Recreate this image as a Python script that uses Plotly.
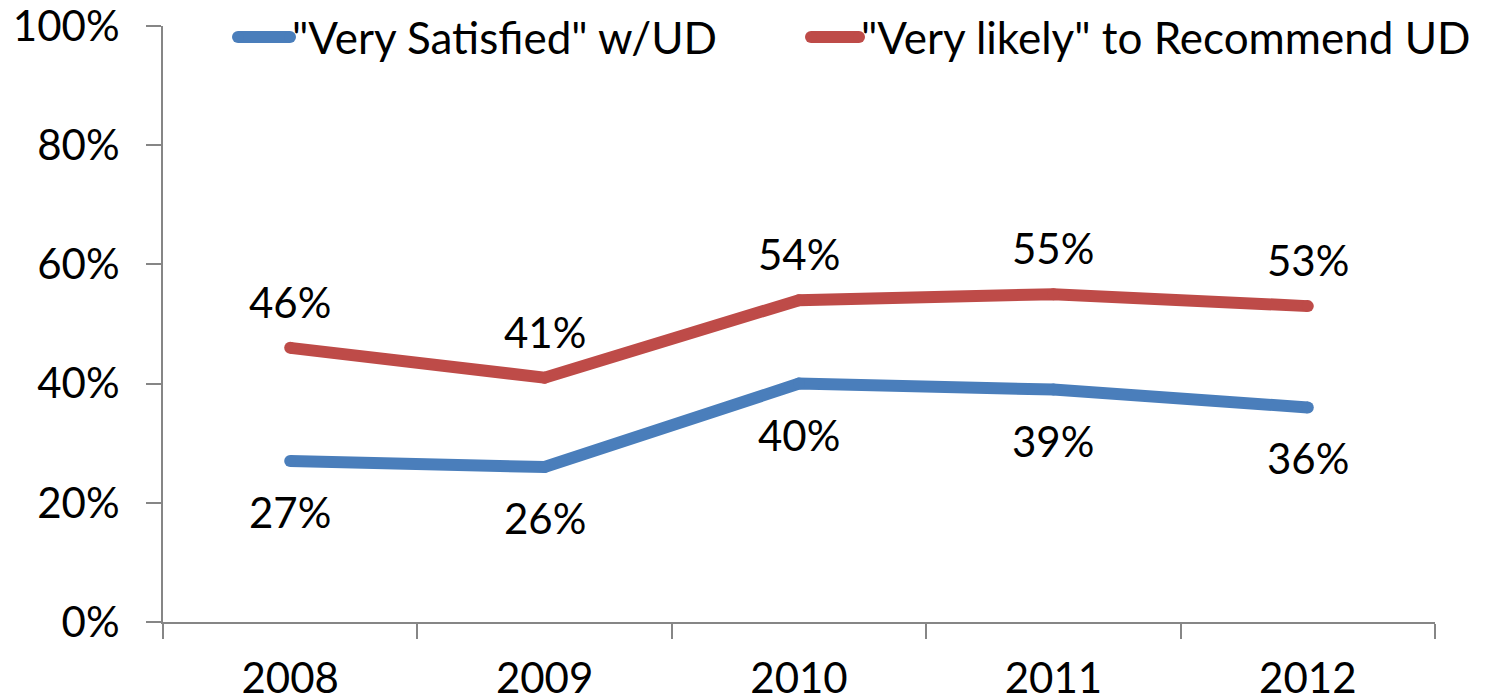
import plotly.graph_objects as go

years = ["2008", "2009", "2010", "2011", "2012"]
very_satisfied = [27, 26, 40, 39, 36]
very_likely = [46, 41, 54, 55, 53]
series_names = ['"Very Satisfied" w/UD', '"Very likely" to Recommend UD']
colors = ["#4A7EBB", "#BE4B48"]
y_tickvals = [0, 20, 40, 60, 80, 100]
y_ticktext = ["0%", "20%", "40%", "60%", "80%", "100%"]

FONT = "Lato"
FS = 42
FS_LEG = 44
OFF = 8  # page body margin
W, H = 1492 - OFF, 700 - OFF
ML, MT = 163 - OFF, 26 - OFF
PW, PH = 1272, 596
MR, MB = W - ML - PW, H - MT - PH

fig = go.Figure()
annotations = []
for vals, name, col, shift in [
    (very_satisfied, series_names[0], colors[0], -51),
    (very_likely, series_names[1], colors[1], 46),
]:
    fig.add_trace(go.Scatter(
        x=years, y=vals, name=name, mode="lines+markers",
        line=dict(color=col, width=12),
        marker=dict(color=col, size=12),
        showlegend=False, hoverinfo="skip",
    ))
    for i, v in enumerate(vals):
        annotations.append(dict(x=i, y=v, xref="x", yref="y", text=f"{v}%",
                                showarrow=False, yshift=shift, xanchor="center",
                                yanchor="middle",
                                font=dict(family=FONT, size=FS, color="#000")))

# custom legend (line swatch + text); positions given in screen pixels
def px_x(sx):
    return (sx - OFF - ML) / PW

def px_y(sy):
    return (MT + PH - (sy - OFF)) / PH

shapes = []
legend_items = [(232, 296, 290), (805, 865, 859)]
ly = 37
for (x0, x1, tx), name, col in zip(legend_items, series_names, colors):
    r = 6
    shapes.append(dict(type="line", xref="paper", yref="paper",
                       x0=px_x(x0 + r), x1=px_x(x1 - r), y0=px_y(ly), y1=px_y(ly),
                       line=dict(color=col, width=12)))
    for cx in (x0 + r, x1 - r):
        shapes.append(dict(type="circle", xref="paper", yref="paper",
                           x0=px_x(cx - r), x1=px_x(cx + r),
                           y0=px_y(ly + r), y1=px_y(ly - r),
                           fillcolor=col, line=dict(width=0)))
    annotations.append(dict(xref="paper", yref="paper", x=px_x(tx), y=px_y(ly),
                            xanchor="left", yanchor="middle", showarrow=False,
                            text=name, font=dict(family=FONT, size=FS_LEG, color="#000")))

fig.update_layout(
    width=W, height=H,
    margin=dict(l=ML, r=MR, t=MT, b=MB, pad=0, autoexpand=False),
    paper_bgcolor="white", plot_bgcolor="white",
    font=dict(family=FONT, size=FS, color="#000"),
    shapes=shapes, annotations=annotations,
    xaxis=dict(type="category", range=[-0.5, 4.5], showgrid=False, zeroline=False,
               showline=True, linecolor="#868686", linewidth=2, automargin=False,
               ticks="outside", ticklen=15, tickcolor="#868686", tickwidth=2,
               tickson="boundaries", ticklabelstandoff=19, ticklabeloverflow="allow",
               tickfont=dict(family=FONT, size=FS, color="#000")),
    yaxis=dict(range=[0, 100], tickmode="array", tickvals=y_tickvals, ticktext=y_ticktext,
               showgrid=False, automargin=False, ticklabeloverflow="allow",
               zeroline=False, showline=True, linecolor="#868686", linewidth=2,
               ticks="outside", ticklen=15, tickcolor="#868686", tickwidth=2,
               ticklabelstandoff=18,
               tickfont=dict(family=FONT, size=FS, color="#000")),
)

fig.write_html("out.html")
